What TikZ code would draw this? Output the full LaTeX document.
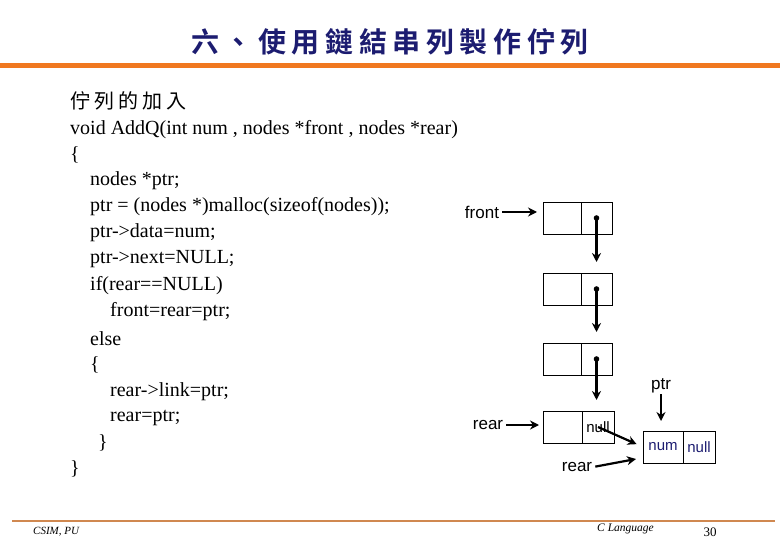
\documentclass[tikz,border=0pt]{standalone}
\usepackage{fontspec}
\setmainfont{Liberation Serif}
\setsansfont{Liberation Sans}
\newfontfamily\cjk[LetterSpace=20]{Noto Sans CJK TC}
\newfontfamily\cjkbold[LetterSpace=20]{Noto Sans CJK TC Bold}
\usetikzlibrary{arrows, arrows.meta, positioning}
\definecolor{titleblue}{RGB}{28,28,112}
\definecolor{barorange}{RGB}{240,120,32}
\definecolor{footorange}{RGB}{208,136,80}
\tikzstyle{arrow} = [line width=2.2pt,-{Stealth[length=9pt,width=9pt]}]
\tikzstyle{datacell} = [draw, line width=0.9pt, minimum width=38pt, minimum height=32pt, inner sep=0pt, outer sep=0pt]
\tikzstyle{linkcell} = [draw, line width=0.9pt, minimum width=31pt, minimum height=32pt, inner sep=0pt, outer sep=0pt]
\tikzstyle{label} = [font=\sffamily\fontsize{17}{17}\selectfont, inner sep=1pt]

\begin{document}
\begin{tikzpicture}[x=1pt, y=-1pt]
        \useasboundingbox (0,0) rectangle (780,540);

        % Title
        \node[text=titleblue] (title) at (390,42) {\cjkbold\fontsize{28}{28}\selectfont 六、使用鏈結串列製作佇列};
        \fill[barorange] (0,63.5) rectangle (780,68.5);

        % Code
        \node[anchor=west, inner sep=0pt] (sub) at (70,101) {\cjk\fontsize{20}{20}\selectfont 佇列的加入};
        \foreach \x/\y/\txt in {
          70/130/{void AddQ(int num , nodes *front , nodes *rear)},
          70/155/{\{},
          90/181/{nodes *ptr;},
          90/207/{ptr = (nodes *)malloc(sizeof(nodes));},
          90/233/{ptr->data=num;},
          90/259/{ptr->next=NULL;},
          90/286/{if(rear==NULL)},
          110/312/{front=rear=ptr;},
          90/339/{else},
          90/365/{\{},
          110/392/{rear->link=ptr;},
          110/418/{rear=ptr;},
          98/443/{\}},
          70/469/{\}}
        }{
          \node[anchor=west, inner sep=0pt, font=\fontsize{20}{20}\selectfont] at (\x,\y) {\txt};
        }

        % List nodes
        \node[datacell] (n1d) at (562,218) {};
        \node[linkcell, right=0pt of n1d] (n1p) {};
        \node[datacell] (n2d) at (562,289) {};
        \node[linkcell, right=0pt of n2d] (n2p) {};
        \node[datacell] (n3d) at (562,359) {};
        \node[linkcell, right=0pt of n3d] (n3p) {};
        \node[datacell, minimum width=39pt] (n4d) at (562.5,427) {};
        \node[linkcell, minimum width=32pt, right=0pt of n4d, font=\sffamily\fontsize{15}{15}\selectfont] (n4p) {null};

        % New node
        \node[datacell, minimum width=40pt, text=titleblue, font=\sffamily\fontsize{15}{15}\selectfont] (nqd) at (663,447) {num};
        \node[linkcell, minimum width=32pt, right=0pt of nqd, text=titleblue, font=\sffamily\fontsize{15}{15}\selectfont] (nqp) {null};

        % Links
        \foreach \a/\b in {n1p/n2p, n2p/n3p, n3p/n4p}{
          \fill (\a.center) circle (2.8);
          \draw[arrow, shorten >=11pt] (\a.center) -- (\a.center |- \b.north);
        }

        % Pointers
        \node[label] (front) at (482,212) {front};
        \draw[arrow, shorten <=2pt, shorten >=6pt] (front.east) -- (front.east -| n1d.west);
        \node[label] (rear) at (488,425) {rear};
        \draw[arrow, shorten <=2pt, shorten >=4pt] (rear.east) -- (rear.east -| n4d.west);
        \node[label] (ptr) at (661,386) {ptr};
        \draw[arrow, shorten >=10pt] (ptr.south) -- (ptr.south |- nqd.north);
        \draw[arrow, shorten >=7pt] (n4p.center) -- (nqd.west);
        \node[label] (rearb) at (577,467) {rear};
        \coordinate (rearend) at ([xshift=-7pt, yshift=-12pt]nqd.west);
        \draw[arrow, shorten <=2pt] (rearb.east) -- (rearend);

        % Footer
        \draw[footorange, line width=2pt] (12,521) -- (775,521);
        \node[anchor=west, inner sep=0pt, font=\itshape\fontsize{11}{11}\selectfont] (csim) at (33,532) {CSIM, PU};
        \node[anchor=west, inner sep=0pt, font=\itshape\fontsize{11.5}{11.5}\selectfont] (clang) at (597,529) {C Language};
        \node[inner sep=0pt, font=\fontsize{13}{13}\selectfont] (page) at (710,532) {30};
      \end{tikzpicture}
\end{document}
